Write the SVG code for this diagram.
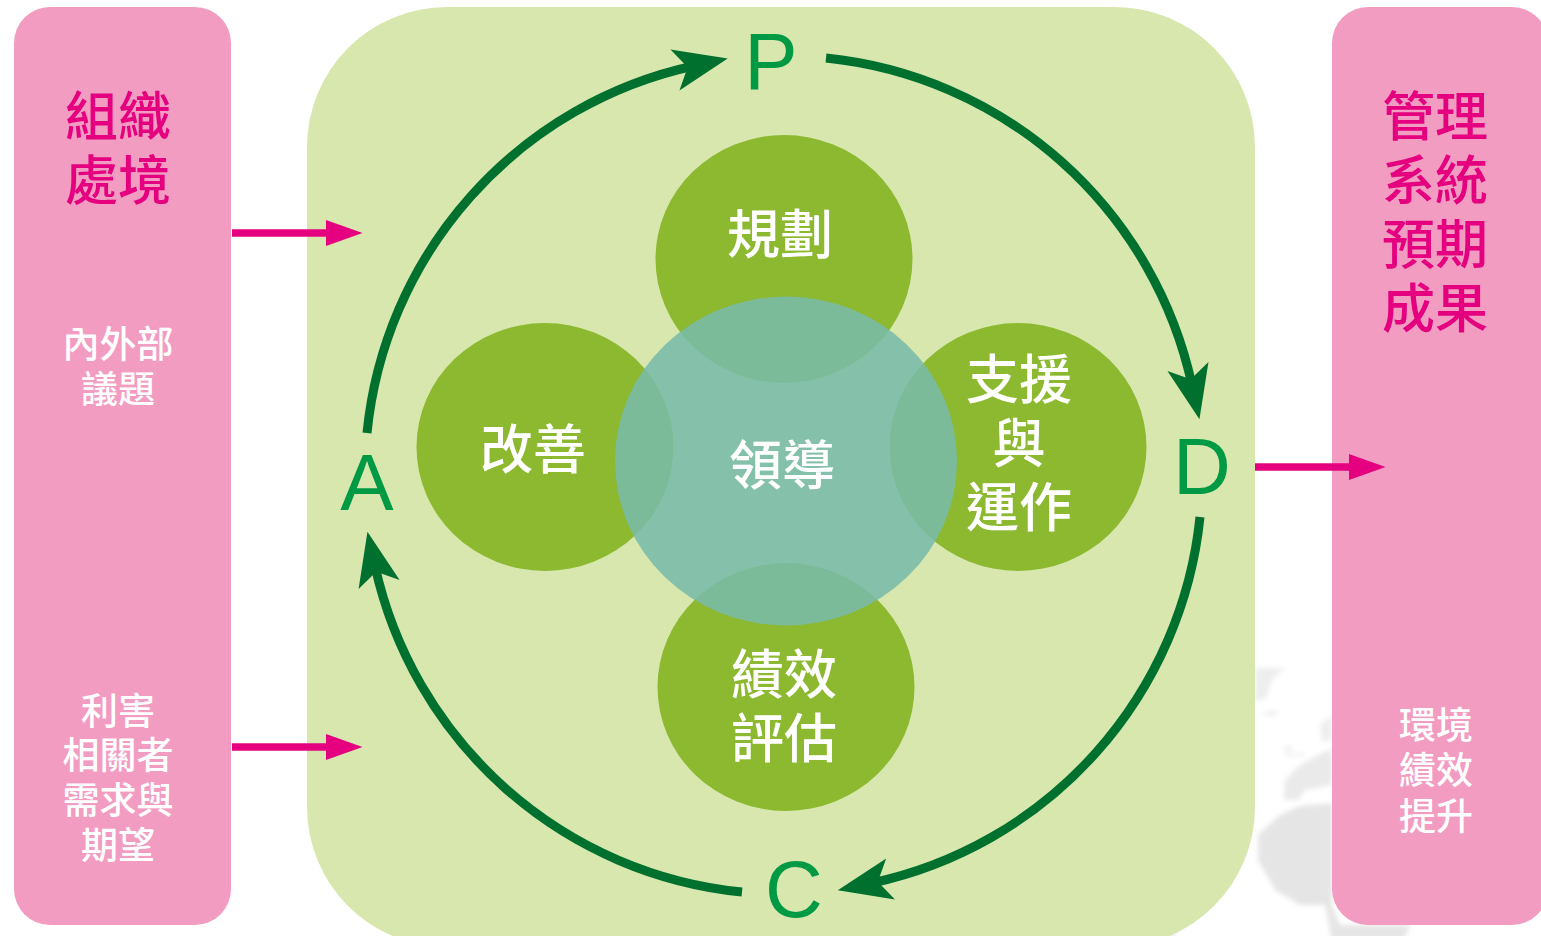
<svg xmlns="http://www.w3.org/2000/svg" width="1541" height="936" viewBox="0 0 1541 936">
<style>
text{font-family:"Noto Sans CJK TC","Noto Sans CJK SC",sans-serif;text-anchor:middle;font-weight:500}
.big{font-size:53px}
.sm{font-size:37px}
.w{fill:#fff}
.m{fill:#e4007f}
.pd{font-family:"Liberation Sans",Arial,sans-serif;font-size:80px;font-weight:400;fill:#009944}
.pink{fill:#f29cc2}
.c{fill:#8cb92f}
.arc{fill:none;stroke:#00702f;stroke-width:9;marker-end:url(#ah)}
.in{stroke:#e4007f;stroke-width:7.500;fill:none;marker-end:url(#ih)}
</style>
<defs>
<marker id="ah" markerUnits="userSpaceOnUse" markerWidth="60" markerHeight="50" refX="21" refY="25" orient="auto" viewBox="0 0 60 50">
<path d="M2,4 L56,25 L2,46 L15,25 Z" fill="#00702f"/>
</marker>
<marker id="ih" markerUnits="userSpaceOnUse" markerWidth="40" markerHeight="30" refX="2" refY="15" orient="auto" viewBox="0 0 40 30">
<path d="M2,2 L38.500,15 L2,28 Z" fill="#e4007f"/>
</marker>
<filter id="b" x="-10%" y="-10%" width="120%" height="120%"><feGaussianBlur stdDeviation="2.800"/></filter>
</defs>
<rect width="1541" height="936" fill="#fff"/>
<g id="map" fill="#e5e5e5" filter="url(#b)">
<path d="M1255,668 L1285,668 L1272,680 L1266,698 L1255,702Z" fill="#eeeeee"/>
<path d="M1260,712 L1280,711 L1272,717Z" fill="#eeeeee"/>
<path d="M1320,725 L1332,715 L1332,740 L1322,742Z" fill="#eeeeee"/>
<path d="M1284,746 L1292,745 L1290,754 L1306,752 L1302,756 L1286,756Z" fill="#f2f2f2"/>
<path d="M1285,780 L1300,765 L1332,748 L1332,785 L1305,790 L1298,800 L1284,800Z" fill="#eaeaea"/>
<path d="M1280,815 L1300,806 L1332,803 L1332,905 L1340,925 L1410,925 L1404,940 L1332,940 L1325,905 L1300,905 L1275,890 L1258,860 L1258,835Z"/>
<path d="M1140,940 L1165,922 L1180,926 L1172,940Z" fill="#eaeaea"/>
</g>
<rect id="pdca" x="307" y="7" width="948" height="940" rx="140" ry="140" fill="#d8e7ae"/>
<g id="left-panel">
<rect x="14" y="7" width="217" height="918" rx="36" class="pink"/>
<text class="big m" x="118" y="136">組織</text>
<text class="big m" x="118" y="200">處境</text>
<text class="sm w" x="118" y="358">內外部</text>
<text class="sm w" x="118" y="403">議題</text>
<text class="sm w" x="118" y="725">利害</text>
<text class="sm w" x="118" y="769">相關者</text>
<text class="sm w" x="118" y="814">需求與</text>
<text class="sm w" x="118" y="859">期望</text>
</g>
<g id="right-panel">
<rect x="1332" y="7" width="216" height="918" rx="36" class="pink"/>
<text class="big m" x="1435" y="136">管理</text>
<text class="big m" x="1435" y="200">系統</text>
<text class="big m" x="1435" y="264">預期</text>
<text class="big m" x="1435" y="328">成果</text>
<text class="sm w" x="1436" y="739">環境</text>
<text class="sm w" x="1436" y="784">績效</text>
<text class="sm w" x="1436" y="830">提升</text>
</g>
<g id="n-plan"><ellipse cx="784" cy="259" rx="128.500" ry="124" class="c"/></g>
<g id="n-improve"><ellipse cx="545" cy="447" rx="128.500" ry="124" class="c"/></g>
<g id="n-support"><ellipse cx="1018" cy="447" rx="128.500" ry="124" class="c"/></g>
<g id="n-eval"><ellipse cx="786" cy="687" rx="128.500" ry="124" class="c"/></g>
<g id="n-lead"><ellipse cx="786" cy="461" rx="171" ry="164.500" fill="#79bba9" fill-opacity=".87"/></g>
<g id="labels">
<text class="big w" x="780" y="254">規劃</text>
<text class="big w" x="533" y="469">改善</text>
<text class="big w" x="1019" y="399">支援</text>
<text class="big w" x="1019" y="463">與</text>
<text class="big w" x="1019" y="527">運作</text>
<text class="big w" x="784" y="694">績效</text>
<text class="big w" x="784" y="758">評估</text>
<text class="big w" x="782" y="485">領導</text>
</g>
<g id="connectors">
<path class="arc" d="M826,58 A418,418 0 0 1 1192,385"/>
<path class="arc" d="M1200,517 A418,418 0 0 1 872,883"/>
<path class="arc" d="M742,892 A418,418 0 0 1 375,566"/>
<path class="arc" d="M367,433 A418,418 0 0 1 693.500,66"/>
<path class="in" d="M232,233 H326"/>
<path class="in" d="M232,747 H326"/>
<path class="in" d="M1255,467 H1349"/>
</g>
<g id="pdca-letters">
<text class="pd" x="771" y="89">P</text>
<text class="pd" x="1202" y="494">D</text>
<text class="pd" x="794" y="917">C</text>
<text class="pd" x="367" y="510">A</text>
</g>
</svg>
